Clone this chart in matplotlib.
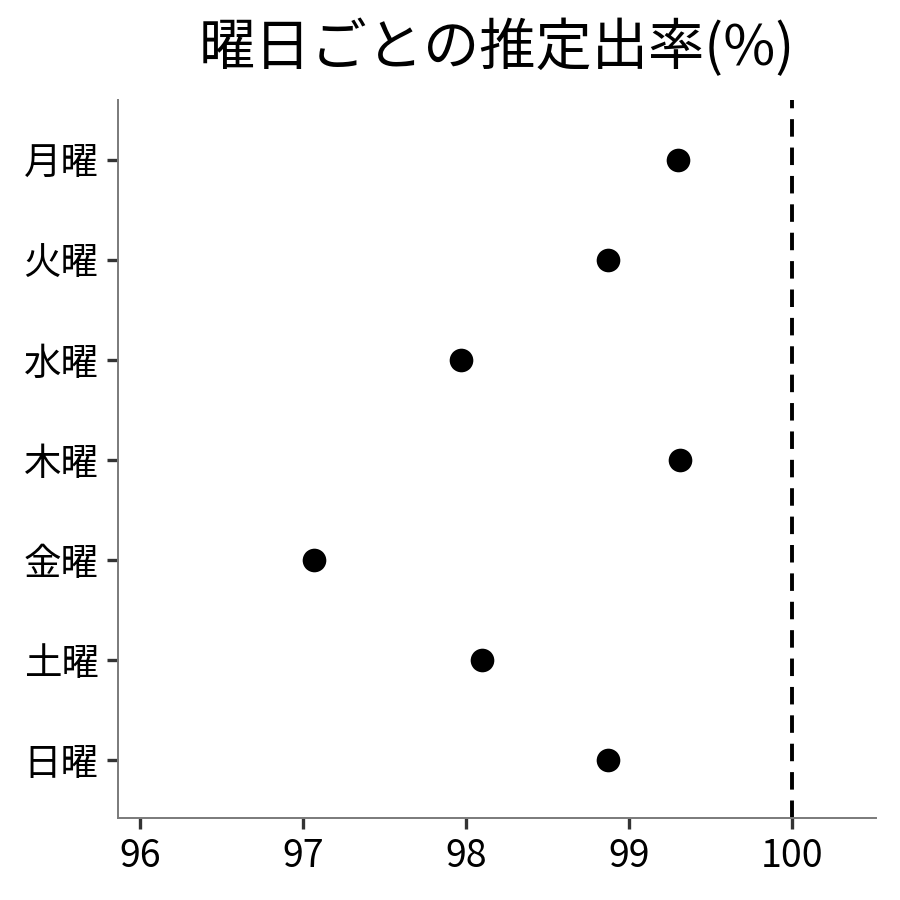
import matplotlib
matplotlib.use('Agg')
import matplotlib.pyplot as plt

plt.rcParams['font.family'] = ['Noto Sans CJK JP', 'DejaVu Sans']

# data
days = ['月曜', '火曜', '水曜', '木曜', '金曜', '土曜', '日曜']
rates = [99.30, 98.87, 97.97, 99.31, 97.07, 98.10, 98.87]
xticks = [96, 97, 98, 99, 100]

fig = plt.figure(figsize=(9, 9), dpi=100)
ax = fig.add_axes([0.1311, 0.0911, 0.8422, 0.7978])

ypos = list(range(len(days)))[::-1]
ax.scatter(rates, ypos, s=290, color='black', zorder=3, linewidths=0)
ax.axvline(100, color='black', linestyle=(0, (4.5, 2.8)), linewidth=2.8)

ax.set_xlim(95.865, 100.515)
ax.set_ylim(-0.58, 6.6)
ax.set_xticks(xticks)
ax.set_xticklabels([str(t) for t in xticks])
ax.set_yticks(ypos)
ax.set_yticklabels(days)

for side in ['top', 'right']:
    ax.spines[side].set_visible(False)
for side in ['left', 'bottom']:
    ax.spines[side].set_color('#7a7a7a')
    ax.spines[side].set_linewidth(1.4)

ax.tick_params(axis='both', length=8, width=2.4, color='#333333',
               labelsize=27, labelcolor='black', pad=6)

ax.set_title('曜日ごとの推定出率(%)', fontsize=40.5, pad=25)

fig.savefig('out.png', dpi=100)
